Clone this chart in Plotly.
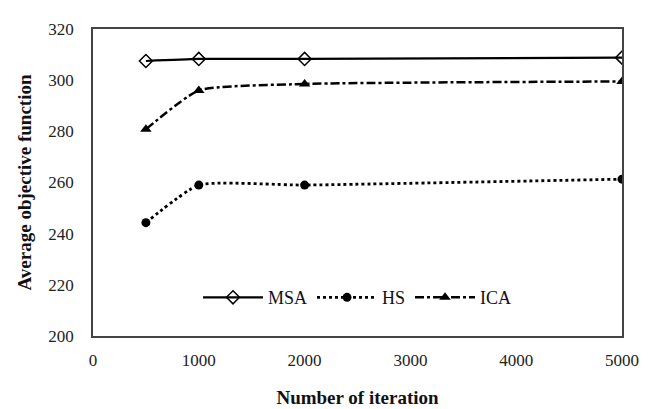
import plotly.graph_objects as go

iterations = [500, 1000, 2000, 5000]
msa = [307.5, 308.3, 308.3, 308.8]
hs = [244.3, 259.0, 259.0, 261.3]
ica = [280.8, 296.0, 298.5, 299.5]

fig = go.Figure()
fig.add_trace(go.Scatter(x=iterations, y=msa, name="MSA", mode="lines+markers",
                         line=dict(color="black", width=2.2, shape="spline", smoothing=0.5),
                         marker=dict(symbol="diamond-open", size=10, color="black", line=dict(width=1.5))))
fig.add_trace(go.Scatter(x=iterations, y=hs, name="HS", mode="lines+markers",
                         line=dict(color="black", width=2.8, dash="dot", shape="spline", smoothing=0.5),
                         marker=dict(symbol="circle", size=9, color="black")))
fig.add_trace(go.Scatter(x=iterations, y=ica, name="ICA", mode="lines+markers",
                         line=dict(color="black", width=2.5, dash="dashdot", shape="spline", smoothing=0.5),
                         marker=dict(symbol="triangle-up", size=10, color="black")))

font = "Liberation Serif, Times New Roman, serif"
fig.update_layout(
    width=650, height=409,
    margin=dict(l=85, r=36, t=14, b=81),
    plot_bgcolor="white", paper_bgcolor="white",
    font=dict(family=font, size=17, color="#222"),
    showlegend=True,
    legend=dict(orientation="h", x=0.5, xanchor="center", y=0.125, yanchor="middle",
                bgcolor="rgba(0,0,0,0)", font=dict(size=18, color="#111"),
                itemwidth=60, tracegroupgap=0),
)
fig.update_xaxes(range=[0, 5000], tickvals=[0, 1000, 2000, 3000, 4000, 5000],
                 showgrid=False, zeroline=False, showline=True, mirror=True,
                 linecolor="#444", linewidth=1.5, ticks="outside", ticklen=8, tickcolor="rgba(0,0,0,0)",
                 title=dict(text="<b>Number of iteration</b>", font=dict(size=19, color="#111"), standoff=22))
fig.update_yaxes(range=[200, 320], tickvals=[200, 220, 240, 260, 280, 300, 320],
                 showgrid=False, zeroline=False, showline=True, mirror=True,
                 linecolor="#444", linewidth=1.5, ticks="outside", ticklen=14, tickcolor="rgba(0,0,0,0)",
                 title=dict(text="<b>Average objective function</b>", font=dict(size=19, color="#111"), standoff=12))
fig.write_html("out.html")
